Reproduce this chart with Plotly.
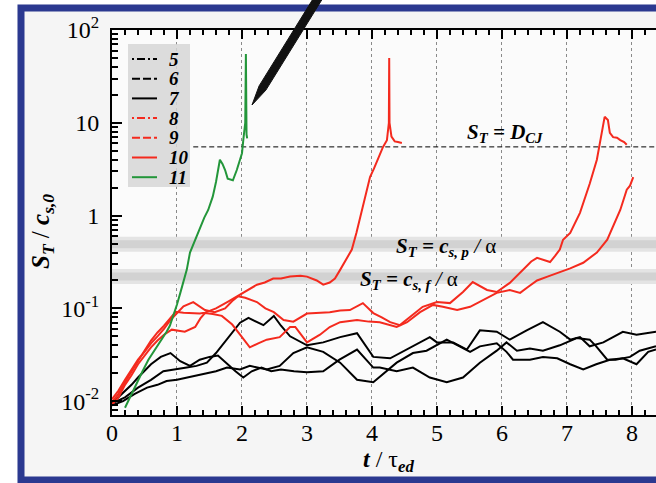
import plotly.graph_objects as go

# ---------------- data (t / tau_ed, S_T / c_s,0) ----------------
curve5 = [(0, 0.009), (0.17, 0.010), (0.35, 0.012), (0.54, 0.014), (0.7, 0.015), (0.84, 0.0165),
          (1.0, 0.017), (1.15, 0.018), (1.3, 0.019), (1.46, 0.020), (1.6, 0.021), (1.77, 0.023),
          (1.97, 0.022), (2.12, 0.024), (2.38, 0.022), (2.58, 0.024), (2.79, 0.033), (3.0, 0.038),
          (3.25, 0.034), (3.51, 0.026), (3.77, 0.017), (4.02, 0.016), (4.28, 0.023), (4.38, 0.026),
          (4.63, 0.033), (4.84, 0.035), (5.15, 0.046), (5.35, 0.039), (5.51, 0.034), (5.66, 0.039),
          (5.92, 0.042), (6.07, 0.034), (6.17, 0.028), (6.43, 0.028), (6.63, 0.030), (6.85, 0.029),
          (7.05, 0.025), (7.25, 0.022), (7.45, 0.025), (7.66, 0.028), (7.86, 0.029), (8.07, 0.025),
          (8.25, 0.034), (8.37, 0.036)]
curve6 = [(0, 0.0095), (0.2, 0.011), (0.4, 0.014), (0.6, 0.017), (0.79, 0.021), (1.0, 0.022),
          (1.15, 0.023), (1.3, 0.024), (1.46, 0.026), (1.6, 0.033), (1.77, 0.046), (1.97, 0.070),
          (2.1, 0.079), (2.23, 0.072), (2.33, 0.066), (2.49, 0.083), (2.6, 0.065), (2.74, 0.050),
          (3.0, 0.040), (3.25, 0.043), (3.51, 0.049), (3.77, 0.054), (4.02, 0.030), (4.28, 0.029),
          (4.63, 0.039), (4.89, 0.049), (5.0, 0.043), (5.25, 0.043), (5.46, 0.036), (5.66, 0.058),
          (5.92, 0.056), (6.07, 0.049), (6.12, 0.046), (6.38, 0.058), (6.63, 0.071), (6.89, 0.056),
          (7.05, 0.046), (7.2, 0.049), (7.35, 0.039), (7.56, 0.043), (7.86, 0.056), (8.07, 0.052),
          (8.37, 0.056)]
curve7 = [(0, 0.0095), (0.1, 0.011), (0.2, 0.013), (0.3, 0.015), (0.4, 0.018), (0.5, 0.021),
          (0.6, 0.025), (0.75, 0.030), (0.9, 0.033), (1.05, 0.027), (1.2, 0.024), (1.35, 0.028),
          (1.5, 0.030), (1.63, 0.031), (1.75, 0.026), (1.9, 0.021), (2.02, 0.018), (2.15, 0.021),
          (2.3, 0.023), (2.45, 0.021), (2.6, 0.022), (2.8, 0.021), (3.0, 0.0205), (3.25, 0.021),
          (3.5, 0.028), (3.77, 0.036), (4.02, 0.023), (4.12, 0.023), (4.38, 0.021), (4.63, 0.023),
          (4.89, 0.018), (5.15, 0.016), (5.4, 0.018), (5.66, 0.026), (5.92, 0.035), (6.07, 0.043),
          (6.23, 0.035), (6.43, 0.037), (6.63, 0.035), (6.89, 0.040), (7.15, 0.048), (7.35, 0.046),
          (7.45, 0.039), (7.62, 0.028), (7.75, 0.028), (7.97, 0.030), (8.12, 0.035), (8.37, 0.039)]
curve8 = [(0, 0.0098), (0.1, 0.012), (0.2, 0.016), (0.3, 0.021), (0.4, 0.027), (0.5, 0.035),
          (0.6, 0.045), (0.7, 0.055), (0.8, 0.065), (0.9, 0.080), (0.98, 0.092), (1.1, 0.090),
          (1.23, 0.089), (1.35, 0.088), (1.43, 0.090), (1.6, 0.100), (1.8, 0.120), (1.97, 0.140),
          (2.1, 0.160), (2.23, 0.180), (2.35, 0.190), (2.48, 0.210), (2.6, 0.210), (2.74, 0.220),
          (2.9, 0.225), (3.0, 0.220), (3.15, 0.200), (3.25, 0.180), (3.35, 0.190), (3.43, 0.210),
          (3.51, 0.26), (3.6, 0.33), (3.69, 0.43), (3.76, 0.65), (3.82, 0.98), (3.9, 1.7),
          (3.97, 2.6), (4.03, 3.2), (4.09, 4.0), (4.13, 4.6), (4.17, 5.5), (4.23, 6.5), (4.26, 10),
          (4.265, 50), (4.27, 10), (4.30, 7.1), (4.35, 6.3), (4.4, 6.2), (4.46, 6.05)]
curve9 = [(0, 0.0105), (0.1, 0.013), (0.2, 0.017), (0.3, 0.022), (0.4, 0.028), (0.5, 0.034),
          (0.6, 0.042), (0.7, 0.050), (0.8, 0.060), (0.9, 0.075), (1.0, 0.090), (1.1, 0.105),
          (1.25, 0.117), (1.35, 0.105), (1.43, 0.096), (1.58, 0.091), (1.74, 0.100), (1.85, 0.120),
          (1.94, 0.135), (2.05, 0.130), (2.23, 0.117), (2.36, 0.100), (2.49, 0.091), (2.64, 0.075),
          (2.79, 0.072), (3.0, 0.088), (3.18, 0.090), (3.35, 0.091), (3.51, 0.095), (3.66, 0.096),
          (3.86, 0.114), (4.02, 0.089), (4.15, 0.080), (4.28, 0.071), (4.43, 0.066), (4.58, 0.081),
          (4.78, 0.104), (5.0, 0.117), (5.2, 0.114), (5.4, 0.150), (5.55, 0.192), (5.77, 0.158),
          (5.92, 0.150), (6.12, 0.188), (6.32, 0.26), (6.45, 0.32), (6.54, 0.35), (6.65, 0.33),
          (6.74, 0.316), (6.82, 0.37), (6.89, 0.43), (6.94, 0.55), (7.05, 0.65), (7.2, 1.07),
          (7.35, 2.2), (7.46, 4.0), (7.53, 7.8), (7.58, 11.6), (7.63, 10.7), (7.66, 7.8),
          (7.71, 7.0), (7.77, 6.9), (7.82, 6.5), (7.88, 6.2), (7.92, 5.8)]
curve10 = [(0, 0.0092), (0.1, 0.011), (0.2, 0.015), (0.3, 0.019), (0.4, 0.025), (0.5, 0.031),
           (0.6, 0.038), (0.7, 0.045), (0.8, 0.052), (0.92, 0.059), (1.02, 0.058), (1.12, 0.056),
           (1.28, 0.063), (1.36, 0.078), (1.43, 0.089), (1.55, 0.087), (1.69, 0.083), (1.85, 0.067),
           (2.0, 0.049), (2.12, 0.038), (2.25, 0.042), (2.38, 0.046), (2.58, 0.049), (2.74, 0.063),
           (2.82, 0.063), (3.0, 0.043), (3.2, 0.052), (3.35, 0.063), (3.51, 0.071), (3.77, 0.075),
           (3.95, 0.072), (4.12, 0.071), (4.38, 0.063), (4.54, 0.071), (4.74, 0.091), (4.94, 0.109),
           (5.09, 0.104), (5.31, 0.096), (5.51, 0.104), (5.71, 0.123), (5.92, 0.147), (6.12, 0.158),
           (6.28, 0.147), (6.4, 0.170), (6.54, 0.200), (6.7, 0.220), (6.85, 0.240), (7.05, 0.270),
           (7.25, 0.310), (7.46, 0.40), (7.62, 0.55), (7.72, 0.80), (7.82, 1.15), (7.92, 1.9),
           (7.97, 2.1), (8.02, 2.6)]
curve11 = [(0.2, 0.0085), (0.3, 0.012), (0.38, 0.0156), (0.47, 0.021), (0.56, 0.028), (0.64, 0.034),
           (0.71, 0.040), (0.78, 0.047), (0.84, 0.056), (0.89, 0.065), (0.94, 0.081), (1.0, 0.110),
           (1.05, 0.146), (1.1, 0.20), (1.15, 0.26), (1.2, 0.40), (1.28, 0.55), (1.35, 0.75),
           (1.42, 0.95), (1.48, 1.15), (1.55, 1.6), (1.6, 2.3), (1.63, 2.9), (1.66, 4.0), (1.7, 3.6),
           (1.74, 3.1), (1.78, 2.5), (1.86, 2.4), (1.92, 3.1), (1.97, 4.0), (2.0, 4.7), (2.02, 6.5),
           (2.04, 8.0), (2.05, 10), (2.06, 55), (2.065, 12), (2.07, 7.5), (2.08, 6.8)]

series_names = ["5", "6", "7", "8", "9", "10", "11"]
series_data = [curve5, curve6, curve7, curve8, curve9, curve10, curve11]
series_colors = ["#000000", "#000000", "#000000", "#f42a1e", "#f42a1e", "#f42a1e", "#23963a"]
legend_dash = ["2px,3px,8px,3px", "8px,3px", "solid", "2px,3px,8px,3px", "8px,3px", "solid", "solid"]

D_CJ = 5.5          # S_T = D_CJ
CS_P_ALPHA = 0.49   # S_T = c_s,p / alpha
CS_F_ALPHA = 0.22   # S_T = c_s,f / alpha
T_MAX = 8.37

x_ticks = [0, 1, 2, 3, 4, 5, 6, 7, 8]
y_tickvals = [0.01, 0.1, 1, 10, 100]
y_ticktext = ["10<sup>-2</sup>", "10<sup>-1</sup>", "1", "10", "10<sup>2</sup>"]
y_minor = [m * 10 ** e for e in (-3, -2, -1, 0, 1) for m in range(2, 10)]

# ---------------- layout geometry (pixels) ----------------
W, H = 656, 483
L_, R_, T_, B_ = 112, 0, 30, 68
PW, PH = W - L_ - R_, H - T_ - B_


def pp(x, y):
    """pixel -> paper"""
    return (x - L_) / PW, (H - B_ - y) / PH


SERIF = "Liberation Serif"
fig = go.Figure()

# reference bands
for lvl in (CS_P_ALPHA, CS_F_ALPHA):
    fig.add_trace(go.Scatter(x=[0, T_MAX], y=[lvl, lvl], mode="lines",
                             line=dict(color="#e4e4e4", width=15), showlegend=False, hoverinfo="skip"))
    fig.add_trace(go.Scatter(x=[0, T_MAX], y=[lvl, lvl], mode="lines",
                             line=dict(color="#d2d2d2", width=8), showlegend=False, hoverinfo="skip"))
fig.add_trace(go.Scatter(x=[1.25, T_MAX], y=[D_CJ, D_CJ], mode="lines",
                         line=dict(color="#000000", width=1, dash="5px,3px"),
                         showlegend=False, hoverinfo="skip"))

for name, data, col in zip(series_names, series_data, series_colors):
    fig.add_trace(go.Scatter(x=[p[0] for p in data], y=[p[1] for p in data], mode="lines",
                             name=name, line=dict(color=col, width=2), showlegend=False))

# ---------------- manual legend ----------------
shapes = []
annotations = []
x0p, y0p = pp(128, 44)
x1p, y1p = pp(190, 187)
shapes.append(dict(type="rect", xref="paper", yref="paper", x0=x0p, y0=y1p, x1=x1p, y1=y0p,
                   fillcolor="#d6d6d6", line=dict(width=0), layer="above", opacity=0.85))
for i, (name, col, dsh) in enumerate(zip(series_names, series_colors, legend_dash)):
    yy = 59 + i * 19.7
    a, b = pp(132, yy)
    c, _ = pp(157, yy)
    shapes.append(dict(type="line", xref="paper", yref="paper", x0=a, y0=b, x1=c, y1=b,
                       line=dict(color=col, width=2, dash=dsh), layer="above"))
    tx, ty = pp(167, yy)
    annotations.append(dict(xref="paper", yref="paper", x=tx, y=ty, text=name, showarrow=False,
                            xanchor="left", yanchor="middle",
                            font=dict(family=SERIF, size=19, color="black", weight="bold", style="italic")))

# ---------------- frame and arrow ----------------
a0, b0 = pp(-10, -10)
a1, b1 = pp(17.5, 500)
shapes.append(dict(type="rect", xref="paper", yref="paper", x0=a0, y0=b1, x1=a1, y1=b0,
                   fillcolor="white", line=dict(width=0), layer="above"))
a1, b1 = pp(800, 4.5)
shapes.append(dict(type="rect", xref="paper", yref="paper", x0=a0, y0=b1, x1=a1, y1=b0,
                   fillcolor="white", line=dict(width=0), layer="above"))
fa, fb = pp(21, 8)
fc, fd = pp(760, 480)
shapes.append(dict(type="rect", xref="paper", yref="paper", x0=fa, y0=fd, x1=fc, y1=fb,
                   fillcolor="rgba(0,0,0,0)", line=dict(color="#2b3990", width=7), layer="above"))
arrow_px = [(319.8, -12.1), (326.6, -7.9), (265.9, 90.1), (252, 105), (259.1, 85.9)]
path = "M " + " L ".join("%.5f,%.5f" % pp(x, y) for x, y in arrow_px) + " Z"
shapes.append(dict(type="path", xref="paper", yref="paper", path=path,
                   fillcolor="#111111", line=dict(color="#111111", width=1), layer="above"))

# ---------------- text labels ----------------
lab_font = dict(family=SERIF, size=21, color="black")
annotations += [
    dict(x=6.05, y=0.89, xref="x", yref="y", showarrow=False, font=lab_font,
         xanchor="center", yanchor="middle",
         text="<b><i>S<sub>T</sub> = D<sub>CJ</sub></i></b>"),
    dict(x=5.14, y=-0.335, xref="x", yref="y", showarrow=False, font=lab_font,
         xanchor="center", yanchor="middle",
         text="<b><i>S<sub>T</sub> = c<sub>s, p</sub></i></b><i> / </i>α"),
    dict(x=4.57, y=-0.69, xref="x", yref="y", showarrow=False, font=lab_font,
         xanchor="center", yanchor="middle",
         text="<b><i>S<sub>T</sub> = c<sub>s, f</sub></i></b><i> / </i>α"),
]
tx, ty = pp(388, 461)
annotations.append(dict(xref="paper", yref="paper", x=tx, y=ty, showarrow=False,
                        xanchor="center", yanchor="middle",
                        font=dict(family=SERIF, size=24, color="black"),
                        text="<b><i>t</i></b> / τ<sub><b><i>ed</i></b></sub>"))
tx, ty = pp(43, 232)
annotations.append(dict(xref="paper", yref="paper", x=tx, y=ty, showarrow=False, textangle=-90,
                        xanchor="center", yanchor="middle",
                        font=dict(family=SERIF, size=25, color="black"),
                        text="<b><i>S<sub>T</sub></i></b> / <b><i>c<sub>s,0</sub></i></b>"))

fig.update_layout(
    width=W, height=H, autosize=False,
    margin=dict(l=L_, r=R_, t=T_, b=B_, pad=0),
    paper_bgcolor="#f5f5f5", plot_bgcolor="#fbfbfb",
    showlegend=False,
    shapes=shapes, annotations=annotations,
    font=dict(family=SERIF, color="black"),
    xaxis=dict(range=[0, T_MAX], tickvals=x_ticks, ticks="inside", ticklen=9, tickwidth=2,
               tickcolor="black", showline=True, linecolor="black", linewidth=2, mirror="ticks",
               showgrid=True, gridcolor="#8a8a8a", griddash="dot", gridwidth=1, zeroline=False,
               ticklabelstandoff=-5,
               tickfont=dict(family=SERIF, size=24, color="black"),
               minor=dict(dtick=0.2, ticks="inside", ticklen=5, tickwidth=1.5, tickcolor="black",
                          showgrid=False)),
    yaxis=dict(type="log", range=[-2.149, 2], tickvals=y_tickvals, ticktext=y_ticktext,
               ticks="inside", ticklen=10, tickwidth=2, tickcolor="black", showline=True,
               linecolor="black", linewidth=2, mirror=False, showgrid=False, zeroline=False,
               ticklabelstandoff=6,
               tickfont=dict(family=SERIF, size=24, color="black"),
               minor=dict(tickvals=y_minor, ticks="inside", ticklen=6, tickwidth=1.5,
                          tickcolor="black", showgrid=False)),
)

fig.write_html("out.html", config={"displayModeBar": False},
               post_script="document.body.style.margin='0';document.body.style.padding='0';"
                           "document.body.style.overflow='hidden';")
